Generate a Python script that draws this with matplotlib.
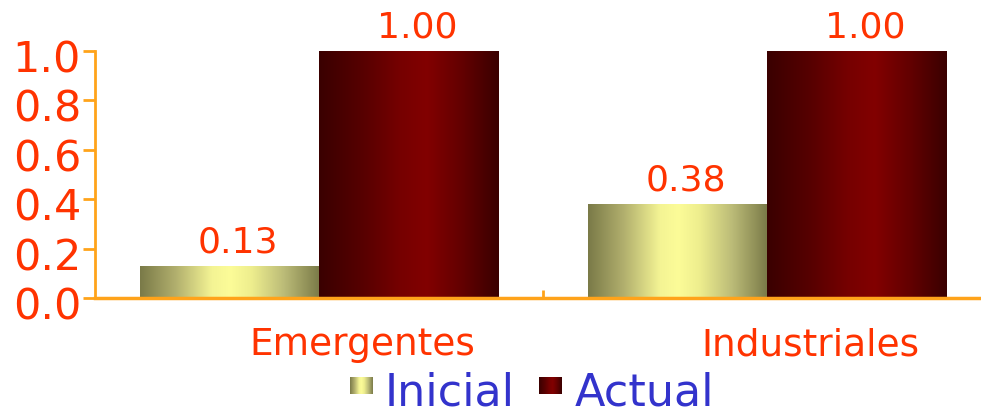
import numpy as np
import matplotlib
matplotlib.use('Agg')
import matplotlib.pyplot as plt
from matplotlib.colors import LinearSegmentedColormap
from matplotlib.transforms import ScaledTranslation

# Data
categories = ['Emergentes', 'Industriales']
series_names = ['Inicial', 'Actual']
inicial = [0.13, 0.38]
actual = [1.00, 1.00]
yticks = [0.0, 0.2, 0.4, 0.6, 0.8, 1.0]

# Styling
AXIS_COLOR = '#FFA31A'
TEXT_COLOR = '#FF3300'
LEGEND_COLOR = '#3333CC'
cmap_inicial = LinearSegmentedColormap.from_list(
    'inicial', [(0.0, '#7a7a48'), (0.2, '#b2b06e'), (0.4, '#f4f494'),
                (0.5, '#fcfc98'), (0.62, '#eeee8e'), (0.8, '#bcbc78'),
                (1.0, '#7a7a48')])
cmap_actual = LinearSegmentedColormap.from_list(
    'actual', [(0.0, '#3a0000'), (0.25, '#580000'), (0.45, '#760000'),
               (0.6, '#820000'), (0.8, '#620000'), (1.0, '#3a0000')])
cmaps = [cmap_inicial, cmap_actual]

fig = plt.figure(figsize=(9.81, 4.15), dpi=100)
ax = fig.add_axes([95 / 981, 117 / 415, 896 / 981, 247 / 415])

x = np.arange(len(categories))
width = 0.4
grad = np.linspace(0, 1, 256).reshape(1, -1)

for k, (vals, cmap) in enumerate(zip([inicial, actual], cmaps)):
    offset = (k - 0.5) * width
    bars = ax.bar(x + offset, vals, width, color='none', edgecolor='none', zorder=2)
    for rect, v in zip(bars, vals):
        x0 = rect.get_x()
        im = ax.imshow(grad, extent=[x0, x0 + rect.get_width(), 0, rect.get_height()],
                       aspect='auto', cmap=cmap, zorder=2, interpolation='bilinear')
        im.set_clip_path(rect)
        ax.annotate(f'{v:.2f}', xy=(rect.get_x() + rect.get_width() / 2, v),
                    xytext=(6, 10), textcoords='offset points',
                    ha='center', va='baseline', fontsize=26, color=TEXT_COLOR)

ax.set_xlim(-0.5, len(categories) - 0.5)
ax.set_ylim(0, 1.0)

# Axes styling
for side in ['top', 'right']:
    ax.spines[side].set_visible(False)
ax.spines['left'].set_color(AXIS_COLOR)
ax.spines['left'].set_linewidth(2)
ax.spines['bottom'].set_color(AXIS_COLOR)
ax.spines['bottom'].set_linewidth(2.5)
ax.spines['bottom'].set_zorder(3)

ax.set_yticks(yticks)
ax.set_yticklabels([f'{t:.1f}' for t in yticks])
ax.tick_params(axis='y', direction='out', length=9, width=2, color=AXIS_COLOR,
               labelcolor=TEXT_COLOR, labelsize=31, pad=1)
for lab in ax.get_yticklabels():
    lab.set_transform(lab.get_transform() + ScaledTranslation(0, -0.05, fig.dpi_scale_trans))

ax.set_xticks(x)
ax.set_xticklabels(categories)
ax.tick_params(axis='x', which='major', length=0, labelcolor=TEXT_COLOR,
               labelsize=27, pad=21)
for lab in ax.get_xticklabels():
    lab.set_transform(lab.get_transform() + ScaledTranslation(0.43, 0, fig.dpi_scale_trans))
ax.set_xticks(x[:-1] + 0.5, minor=True)
ax.tick_params(axis='x', which='minor', direction='in', length=6, width=2, color=AXIS_COLOR)

# Legend built from gradient swatches and text
legend_items = [(350, 385), (539, 575)]
for (sx, tx), name, cmap in zip(legend_items, series_names, cmaps):
    sax = fig.add_axes([sx / 981, (415 - 394) / 415, 23 / 981, 17 / 415])
    sax.imshow(grad, aspect='auto', cmap=cmap, interpolation='bilinear')
    sax.axis('off')
    fig.text(tx / 981, (415 - 405) / 415, name, fontsize=32, color=LEGEND_COLOR,
             ha='left', va='baseline')

fig.savefig('out.png', dpi=100)
